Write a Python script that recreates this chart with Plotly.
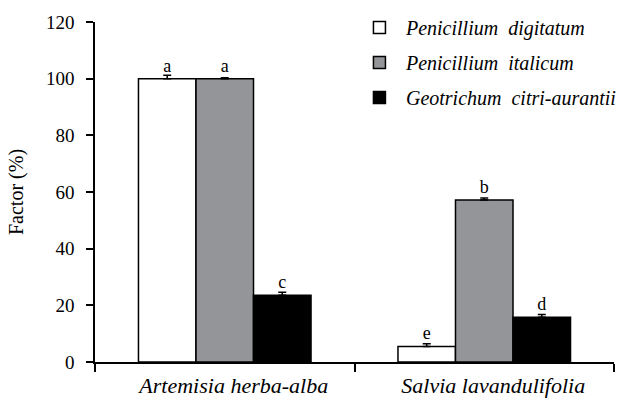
import plotly.graph_objects as go

categories = ["Artemisia herba-alba", "Salvia lavandulifolia"]
series_names = ["Penicillium&nbsp; digitatum", "Penicillium&nbsp; italicum", "Geotrichum&nbsp; citri-aurantii"]
pd_values = [100.0, 5.5]
pi_values = [100.0, 57.2]
gca_values = [23.6, 15.8]
pd_errors = [1.2, 0.9]
pi_errors = [0.3, 0.7]
gca_errors = [1.0, 1.0]
pd_letters = ["a", "e"]
pi_letters = ["a", "b"]
gca_letters = ["c", "d"]
y_ticks = [0, 20, 40, 60, 80, 100, 120]

FONT = "Times New Roman, serif"
colors = ["#ffffff", "#939598", "#000000"]

fig = go.Figure()
for i, (name, vals, errs, letters) in enumerate(zip(
        series_names,
        [pd_values, pi_values, gca_values],
        [pd_errors, pi_errors, gca_errors],
        [pd_letters, pi_letters, gca_letters])):
    fig.add_trace(go.Bar(
        x=categories, y=vals, name="<i>" + name + "</i>",
        legendgroup=str(i),
        marker=dict(color=colors[i], line=dict(color="black", width=1.5)),
        error_y=dict(type="data", array=errs, arrayminus=[0]*len(errs),
                     symmetric=False, color="black", thickness=1.5, width=4),
        text=letters, textposition="outside", cliponaxis=False,
        textfont=dict(family=FONT, size=18, color="black"),
    ))

fig.update_layout(
    width=619, height=402,
    margin=dict(l=95, r=5, t=22, b=40, autoexpand=False),
    paper_bgcolor="white", plot_bgcolor="white",
    barmode="group", bargap=0.335, bargroupgap=0,
    font=dict(family=FONT, size=18, color="black"),
    showlegend=True,
    legend=dict(x=0.497, y=1.041, xanchor="left", yanchor="top",
                traceorder="grouped", tracegroupgap=6, itemwidth=43,
                font=dict(family=FONT, size=20),
                bgcolor="rgba(0,0,0,0)"),
)
fig.update_xaxes(
    showline=True, linecolor="black", linewidth=1.5,
    ticks="outside", ticklen=8, tickwidth=1.5, tickcolor="black",
    tickson="boundaries", showgrid=False, zeroline=False, automargin=False,
    tickvals=categories, ticktext=["<i>" + c + "</i>" for c in categories],
    tickfont=dict(family=FONT, size=22),
    ticklabelshift=9, ticklabelstandoff=3,
)
fig.update_yaxes(
    range=[0, 120], tickvals=y_ticks,
    showline=True, linecolor="black", linewidth=1.5,
    ticks="outside", ticklen=7, tickwidth=1.5, tickcolor="black",
    showgrid=False, zeroline=False, automargin=False,
    tickfont=dict(family=FONT, size=19), ticklabelstandoff=8,
    title=dict(text="Factor (%)", font=dict(family=FONT, size=20), standoff=17),
)

fig.write_html("out.html", config={"displayModeBar": False})
with open("out.html", "r", encoding="utf-8") as f:
    html = f.read()
html = html.replace("<body>", '<body style="margin:0;padding:0;">', 1)
html = html.replace("<head>", '<head><style>html,body{margin:0;padding:0;}</style>', 1)
with open("out.html", "w", encoding="utf-8") as f:
    f.write(html)
